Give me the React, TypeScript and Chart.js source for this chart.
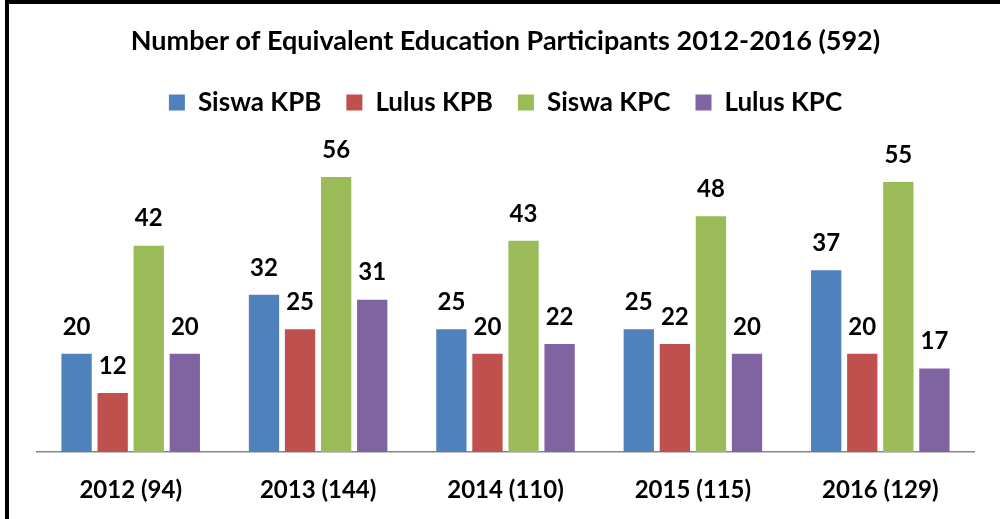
import React, { useEffect, useRef } from "react";
import { Chart, registerables } from "chart.js";

Chart.register(...registerables);

const categories = ["2012 (94)", "2013 (144)", "2014 (110)", "2015 (115)", "2016 (129)"];
const siswaKPB = [20, 32, 25, 25, 37];
const lulusKPB = [12, 25, 20, 22, 20];
const siswaKPC = [42, 56, 43, 48, 55];
const lulusKPC = [20, 31, 22, 20, 17];
const seriesNames = ["Siswa KPB", "Lulus KPB", "Siswa KPC", "Lulus KPC"];
const seriesColors = ["#4F81BD", "#C0504D", "#9BBB59", "#8064A2"];
const titleText = "Number of Equivalent Education Participants 2012-2016 (592)";
const yMin = 0;
const yMax = 66.5;

const FONT = "Lato, 'Open Sans', sans-serif";

const frame = {
  id: "frame",
  beforeDraw(chart: any) {
    const ctx = chart.ctx;
    ctx.save();
    ctx.fillStyle = "#ffffff";
    ctx.fillRect(0, 0, chart.width, chart.height);
    ctx.fillStyle = "#000000";
    ctx.fillRect(5, 0, chart.width - 5, 4);
    ctx.fillRect(5, 0, 4, chart.height);
    ctx.restore();
  },
};

const valueLabels = {
  id: "valueLabels",
  afterDatasetsDraw(chart: any) {
    const ctx = chart.ctx;
    ctx.save();
    ctx.font = `bold 24px ${FONT}`;
    ctx.fillStyle = "#000000";
    ctx.textAlign = "center";
    ctx.textBaseline = "middle";
    chart.data.datasets.forEach((ds: any, i: number) => {
      const meta = chart.getDatasetMeta(i);
      meta.data.forEach((el: any, j: number) => {
        ctx.fillText(String(ds.data[j]), el.x, el.y - 27);
      });
    });
    ctx.restore();
  },
};

export default function App() {
  const ref = useRef<HTMLCanvasElement>(null);
  useEffect(() => {
    if (!ref.current) return;
    const data = [siswaKPB, lulusKPB, siswaKPC, lulusKPC];
    const chart = new Chart(ref.current, {
      type: "bar",
      data: {
        labels: categories,
        datasets: seriesNames.map((name, i) => ({
          label: name,
          data: data[i],
          backgroundColor: seriesColors[i],
          borderWidth: 0,
          categoryPercentage: 0.77,
          barPercentage: 0.84,
        })),
      },
      options: {
        responsive: false,
        animation: false,
        layout: { padding: { left: 37, right: 26, top: 0, bottom: 0 } },
        plugins: {
          title: {
            display: true,
            text: titleText,
            color: "#000000",
            font: { family: FONT, size: 27, weight: "bold" },
            padding: { top: 25, bottom: 7 },
          },
          legend: {
            display: true,
            labels: {
              boxWidth: 16,
              boxHeight: 16,
              color: "#000000",
              padding: 25,
              font: { family: FONT, size: 26, weight: "bold" },
            },
          },
          tooltip: { enabled: false },
        },
        scales: {
          x: {
            grid: { display: false, drawTicks: false },
            border: { display: true, color: "#868686", width: 1.5 },
            afterFit: (scale: any) => {
              scale.height = 67;
            },
            ticks: {
              color: "#000000",
              padding: 24,
              font: { family: FONT, size: 24, weight: "bold" },
            },
          },
          y: {
            display: false,
            min: yMin,
            max: yMax,
          },
        },
      },
      plugins: [frame, valueLabels],
    });
    return () => chart.destroy();
  }, []);
  return (
    <div style={{ position: "fixed", left: 0, top: 0, width: 1000, height: 519, background: "#fff" }}>
      <canvas ref={ref} width={1000} height={519} style={{ display: "block" }} />
    </div>
  );
}
